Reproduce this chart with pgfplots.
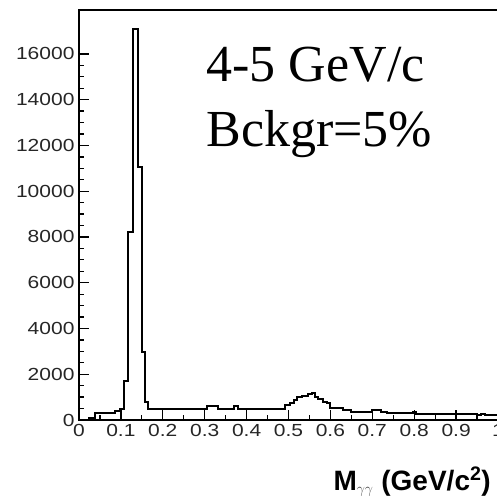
\documentclass[border=0pt]{standalone}
\usepackage{fontspec}
\setmainfont{Liberation Sans}
\newfontfamily\tickfont[FakeStretch=1.2]{Liberation Sans}
\newfontfamily\timesfont{Liberation Serif}
\usepackage{pgfplots}
\pgfplotsset{compat=1.18}

\begin{document}
\begin{tikzpicture}
\begin{axis}[
    name=ax,
    scale only axis,
    width=419pt, height=410pt,
    xmin=0, xmax=1, ymin=0, ymax=17920,
    axis line style={line width=1.5pt},
    xtick={0,0.1,...,1.0},
    xticklabels={0,0.1,0.2,0.3,0.4,0.5,0.6,0.7,0.8,0.9,1},
    minor x tick num=1,
    ytick={0,2000,...,16000},
    minor y tick num=3,
    scaled y ticks=false,
    tick pos=left,
    tick align=inside,
    major tick length=10pt,
    minor tick length=5pt,
    every tick/.style={black, line width=1.3pt},
    /pgf/number format/set thousands separator={},
    /pgf/number format/assume math mode=true,
    ticklabel style={font=\tickfont\fontsize{17.5}{19}\selectfont, text=black!85},
    yticklabel style={xshift=-1pt},
    xticklabel style={yshift=-1pt},
    clip=false,
]
\addplot[const plot, black, line width=2pt] coordinates {
    (0,0) (0.025,100) (0.038,300) (0.087,390) (0.097,490)
    (0.107,1700) (0.118,8200) (0.128,17100) (0.141,11050)
    (0.151,2960) (0.157,780) (0.165,500) (0.305,600) (0.332,500)
    (0.37,600) (0.38,500) (0.492,655) (0.504,730) (0.512,875)
    (0.520,990) (0.532,1060) (0.547,1140) (0.555,1195) (0.563,1020)
    (0.571,900) (0.583,800) (0.591,730) (0.599,540) (0.63,420)
    (0.65,330) (0.70,440) (0.72,350) (0.735,290) (0.798,330)
    (0.805,270) (0.95,220) (0.96,260) (0.97,200) (0.99,230) (1.0,230)
};
\node[anchor=base west, inner sep=0pt, font=\timesfont\fontsize{52}{60}\selectfont]
    at (axis cs:0.304,14790) {4-5 GeV/c};
\node[anchor=base west, inner sep=0pt, font=\timesfont\fontsize{52}{60}\selectfont]
    at (axis cs:0.304,11950) {Bckgr=5\%};
\node[anchor=base east, inner sep=0pt, font=\bfseries\fontsize{28}{30}\selectfont]
    at ([xshift=-7pt, yshift=-70pt]rel axis cs:1,0)
    {M\textmd{\fontsize{22}{22}\selectfont\color{black!70}$_{\gamma\gamma}$} (GeV/c$^{\mathbf{2}}$)};
\end{axis}
\pgfresetboundingbox
\path[use as bounding box] ([shift={(-79pt,-83pt)}]ax.south west) rectangle ([shift={(-1pt,10pt)}]ax.north east);
\end{tikzpicture}
\end{document}
